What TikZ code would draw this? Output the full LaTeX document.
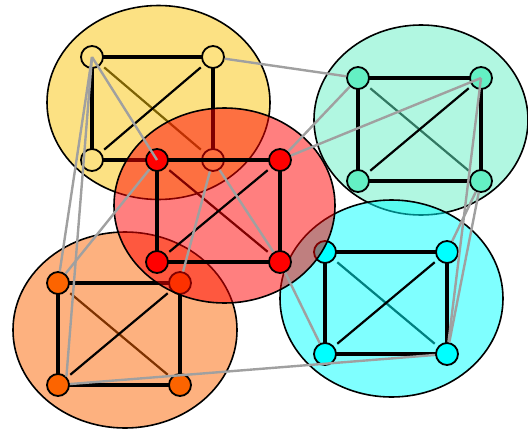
\documentclass[tikz,border=0pt]{standalone}
\usetikzlibrary{shapes.geometric}

\definecolor{ylwfill}{RGB}{250,196,8}
\definecolor{ylwnode}{RGB}{253,226,130}
\definecolor{tealc}{RGB}{100,240,196}
\definecolor{cyanc}{RGB}{0,255,255}
\definecolor{orangec}{RGB}{252,100,0}
\definecolor{redc}{RGB}{255,0,0}
\definecolor{linkgray}{RGB}{160,160,160}

\tikzset{
  blob/.style={draw=black, line width=1.6pt, fill opacity=0.5},
  vert/.style={circle, draw=black, line width=1.8pt, minimum size=22pt, inner sep=0pt},
  side/.style={draw=black, line width=3.4pt},
  frontdiag/.style={draw=black, line width=2.2pt, shorten <=16pt, shorten >=16pt},
  backdiag/.style={draw=black, line width=2.2pt, shorten <=16pt, shorten >=16pt},
  link/.style={draw=linkgray, line width=2.4pt},
}

\begin{document}
\begin{tikzpicture}[x=1pt,y=-1pt]
\useasboundingbox (0,0) rectangle (528,429);

% vertex positions of the five groups
\coordinate (yTL) at (92,57);   \coordinate (yTR) at (213,57);
\coordinate (yBL) at (92,160);  \coordinate (yBR) at (213,160);
\coordinate (tTL) at (358,78);  \coordinate (tTR) at (481,78);
\coordinate (tBL) at (358,181); \coordinate (tBR) at (481,181);
\coordinate (oTL) at (58,283);  \coordinate (oTR) at (180,283);
\coordinate (oBL) at (58,385);  \coordinate (oBR) at (180,385);
\coordinate (cTL) at (325,252); \coordinate (cTR) at (447,252);
\coordinate (cBL) at (325,354); \coordinate (cBR) at (447,354);
\coordinate (rTL) at (157,160); \coordinate (rTR) at (280,160);
\coordinate (rBL) at (157,262); \coordinate (rBR) at (280,262);

% yellow group
\draw[backdiag] (yTL) -- (yBR);
\draw[blob, fill=ylwfill] (158.5,102.5) ellipse [x radius=111.5pt, y radius=97pt];
\draw[side] (yTL) -- (yTR) -- (yBR) -- (yBL) -- cycle;
\draw[frontdiag] (yBL) -- (yTR);
\node[vert, fill=ylwnode] (YTL) at (yTL) {};
\node[vert, fill=ylwnode] (YTR) at (yTR) {};
\node[vert, fill=ylwnode] (YBL) at (yBL) {};
\node[vert, fill=ylwnode] (YBR) at (yBR) {};

% aquamarine group
\draw[backdiag] (tTL) -- (tBR);
\draw[blob, fill=tealc] (421,120) ellipse [x radius=107pt, y radius=95pt];
\draw[side] (tTL) -- (tTR) -- (tBR) -- (tBL) -- cycle;
\draw[frontdiag] (tBL) -- (tTR);
\node[vert, fill=tealc] (TTL) at (tTL) {};
\node[vert, fill=tealc] (TTR) at (tTR) {};
\node[vert, fill=tealc] (TBL) at (tBL) {};
\node[vert, fill=tealc] (TBR) at (tBR) {};

% orange group
\draw[backdiag] (oTL) -- (oBR);
\draw[blob, fill=orangec] (125,330) ellipse [x radius=112pt, y radius=98pt];
\draw[side] (oTL) -- (oTR) -- (oBR) -- (oBL) -- cycle;
\draw[frontdiag] (oBL) -- (oTR);
\node[vert, fill=orangec] (OTL) at (oTL) {};
\node[vert, fill=orangec] (OTR) at (oTR) {};
\node[vert, fill=orangec] (OBL) at (oBL) {};
\node[vert, fill=orangec] (OBR) at (oBR) {};

% cyan group
\draw[backdiag] (cTL) -- (cBR);
\draw[blob, fill=cyanc] (391.5,298.5) ellipse [x radius=111.5pt, y radius=98.5pt];
\draw[side] (cTL) -- (cTR) -- (cBR) -- (cBL) -- cycle;
\draw[frontdiag] (cBL) -- (cTR);
\node[vert, fill=cyanc] (CTL) at (cTL) {};
\node[vert, fill=cyanc] (CTR) at (cTR) {};
\node[vert, fill=cyanc] (CBL) at (cBL) {};
\node[vert, fill=cyanc] (CBR) at (cBR) {};

% red group, lying over the others
\draw[backdiag] (rTL) -- (rBR);
\draw[blob, fill=redc] (224.5,205.5) ellipse [x radius=110.5pt, y radius=97.5pt];
\draw[side] (rTL) -- (rTR) -- (rBR) -- (rBL) -- cycle;
\draw[frontdiag] (rBL) -- (rTR);
\node[vert, fill=redc] (RTL) at (rTL) {};
\node[vert, fill=redc] (RTR) at (rTR) {};
\node[vert, fill=redc] (RBL) at (rBL) {};
\node[vert, fill=redc] (RBR) at (rBR) {};

% links between groups
\draw[link] (YTR) -- (TTL);
\draw[link] (YTL.center) -- (RTL.center);
\draw[link] (YTL.center) -- (OTL);
\draw[link] (YTL.center) -- (OBL.north east);
\draw[link] (RTL) -- (OTL);
\draw[link] (YBR) -- (OTR);
\draw[link] (YBR) -- (RBR);
\draw[link] (RBR) -- (CBL);
\draw[link] (TTL) -- (RTR);
\draw[link] (TTR.center) -- (RTR);
\draw[link] (TTR.center) -- (CBR);
\draw[link] (TBR) -- (CTR);
\draw[link] (TBR) -- (CBR);
\draw[link] (OBL) -- (CBR);
\end{tikzpicture}
\end{document}
